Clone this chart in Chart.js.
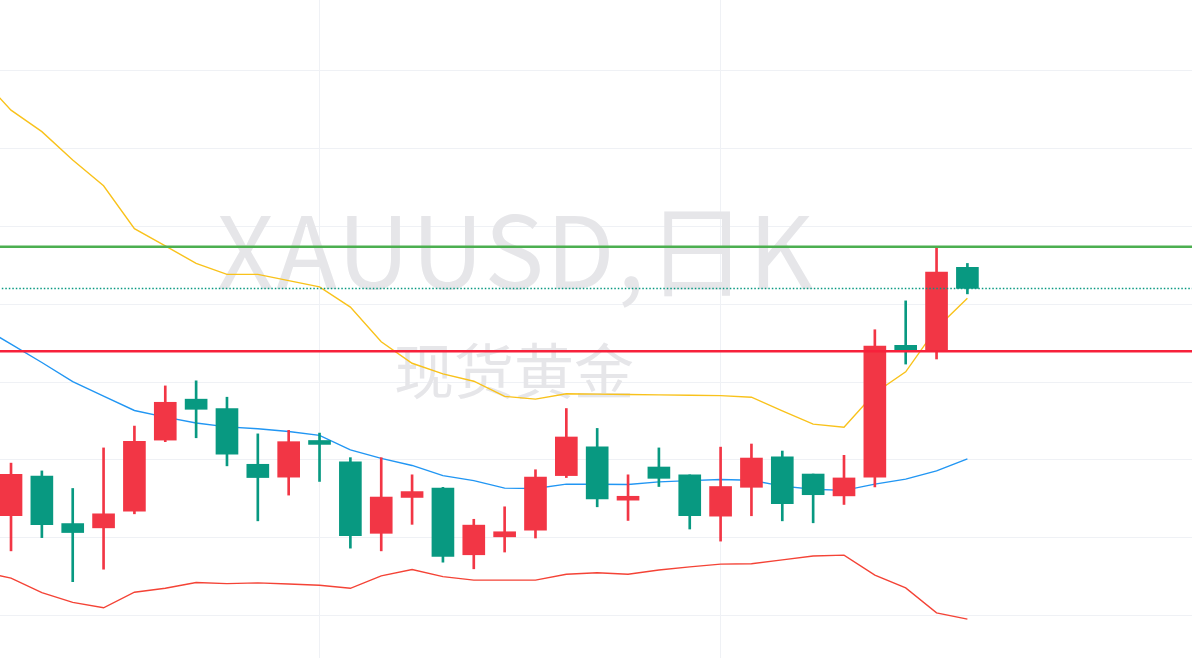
<!DOCTYPE html>
<html>
<head>
<meta charset="utf-8">
<title>XAUUSD 日K</title>
<script src="https://cdn.jsdelivr.net/npm/chart.js@4.4.0/dist/chart.umd.min.js"></script>
<style>
  html, body { margin: 0; padding: 0; background: #fff; overflow: hidden; }
  #wrap { width: 1192px; height: 658px; }
</style>
</head>
<body>
<div id="wrap"><canvas id="kline"></canvas></div>
<script>
// day -1 is the session just left of the view (only its bands show)
const days = [-1, 0, 1, 2, 3, 4, 5, 6, 7, 8, 9, 10, 11, 12, 13, 14, 15, 16,
  17, 18, 19, 20, 21, 22, 23, 24, 25, 26, 27, 28, 29, 30, 31];

const open = [null, 1925.7, 1935.9, 1923.7, 1922.6, 1926.9, 1945.1, 1955.6, 1953.2,
  1938.9, 1935.6, 1945.0, 1939.5, 1921.2, 1930.4, 1932.8, 1915.7, 1920.3, 1922.0,
  1936.0, 1943.4, 1929.7, 1938.2, 1936.2, 1925.6, 1933.0, 1940.8, 1936.4, 1930.8,
  1935.6, 1969.4, 1968.0, 1989.4];
const high = [null, 1939.2, 1937.2, 1932.7, 1943.1, 1948.7, 1959.0, 1960.3, 1956.1,
  1946.7, 1947.6, 1946.9, 1940.6, 1940.6, 1936.2, 1933.0, 1924.8, 1928.0, 1937.5,
  1953.2, 1948.1, 1936.2, 1943.1, 1936.2, 1943.3, 1944.1, 1942.3, 1936.4, 1941.2,
  1973.4, 1980.8, 1994.5, 1990.4];
const low = [null, 1916.7, 1920.1, 1908.8, 1912.0, 1926.2, 1944.7, 1945.7, 1938.5,
  1924.4, 1931.0, 1934.5, 1917.4, 1916.7, 1923.5, 1913.8, 1912.1, 1916.4, 1920.0,
  1935.5, 1928.0, 1924.5, 1933.2, 1922.3, 1919.2, 1925.7, 1924.4, 1923.9, 1928.6,
  1933.1, 1964.6, 1965.9, 1982.6];
const close = [null, 1936.3, 1923.4, 1921.4, 1926.2, 1944.8, 1954.8, 1953.0, 1941.5,
  1935.5, 1944.7, 1944.0, 1920.6, 1930.5, 1931.9, 1915.3, 1923.3, 1921.6, 1935.6,
  1945.9, 1930.0, 1930.7, 1935.3, 1925.7, 1933.2, 1940.5, 1928.8, 1931.1, 1935.4,
  1969.2, 1968.0, 1988.2, 1984.0];

// Bollinger bands
const bollUpper = [2038.2, 2029.7, 2024.2, 2016.9, 2010.3, 1999.3, 1994.9, 1990.4,
  1987.6, 1987.6, 1986.0, 1984.4, 1979.2, 1970.3, 1964.8, 1962.1, 1960.2, 1956.3,
  1955.6, 1957.0, 1956.9, 1956.8, 1956.7, 1956.6, 1956.5, 1956.1, 1952.6, 1949.2,
  1948.4, 1957.2, 1962.6, 1973.8, 1981.5];
const bollMid = [1974.4, 1969.7, 1965.0, 1960.1, 1956.4, 1952.7, 1951.0, 1949.5,
  1948.5, 1948.0, 1947.3, 1946.3, 1942.6, 1940.4, 1938.6, 1936.0, 1934.7, 1932.8,
  1932.7, 1933.8, 1933.8, 1933.7, 1934.4, 1934.7, 1935.0, 1934.8, 1933.3, 1932.5,
  1932.2, 1933.8, 1935.1, 1937.2, 1940.3];
const bollLower = [1911.5, 1909.7, 1906.0, 1903.5, 1902.1, 1906.1, 1907.1, 1908.6,
  1908.3, 1908.5, 1908.2, 1907.9, 1907.1, 1910.3, 1911.9, 1910.1, 1909.2, 1909.2,
  1909.2, 1910.7, 1911.1, 1910.7, 1911.8, 1912.6, 1913.3, 1913.4, 1914.4, 1915.4,
  1915.6, 1910.5, 1907.2, 1900.8, 1899.2];

const resistance = 1994.7;
const support = 1967.9;
const lastPrice = close[close.length - 1];

const priceTicks = [1900, 1920, 1940, 1960, 1980, 2000, 2020, 2040];
const dayTicks = [10, 23];

const title = 'XAUUSD,日K';
const subtitle = '现货黄金';

const UP = '#f23645';
const DOWN = '#089981';

const bars = days.map((d, i) => ({ x: d, o: open[i], h: high[i], l: low[i], c: close[i] }))
  .filter(b => b.o != null);
const bodies = bars.map(b => ({ x: b.x, y: [b.o, b.c], up: b.c >= b.o }));
const wicks = bars.map(b => ({ x: b.x, y: [b.l, b.h], up: b.c >= b.o }));
const pts = arr => days.map((d, i) => ({ x: d, y: arr[i] }));
const level = v => [{ x: -2, y: v }, { x: 40, y: v }];
const candleColor = ctx => (ctx.raw && ctx.raw.up ? UP : DOWN);

const watermark = {
  id: 'watermark',
  beforeDatasetsDraw(chart) {
    const ctx = chart.ctx;
    ctx.save();
    ctx.fillStyle = '#e6e6e9';
    ctx.textAlign = 'center';
    ctx.textBaseline = 'alphabetic';
    ctx.font = '100px "Noto Sans CJK SC", sans-serif';
    ctx.letterSpacing = '2px';
    ctx.fillText(title, 516, 289);
    ctx.letterSpacing = '0px';
    ctx.textBaseline = 'middle';
    ctx.font = '60px "Noto Sans CJK SC", sans-serif';
    ctx.fillText(subtitle, 514, 371);
    ctx.restore();
  }
};

const lineDs = (data, color, width, order, dash) => ({
  type: 'line',
  data,
  borderColor: color,
  borderWidth: width,
  borderDash: dash || [],
  pointRadius: 0,
  tension: 0,
  fill: false,
  order
});

new Chart(document.getElementById('kline'), {
  type: 'bar',
  data: {
    datasets: [
      lineDs(pts(bollUpper), '#f9c21b', 1.4, 5),
      lineDs(pts(bollMid), '#2196f3', 1.4, 5),
      lineDs(pts(bollLower), '#f44336', 1.4, 5),
      {
        data: wicks,
        backgroundColor: candleColor,
        barThickness: 2,
        grouped: false,
        order: 3
      },
      {
        data: bodies,
        backgroundColor: candleColor,
        barThickness: 22,
        grouped: false,
        order: 2
      },
      lineDs(level(lastPrice), DOWN, 1.5, 1, [1.5, 2]),
      lineDs(level(support), '#f7213b', 2.5, 0),
      lineDs(level(resistance), '#4caf50', 2.5, 0)
    ]
  },
  options: {
    responsive: true,
    maintainAspectRatio: false,
    animation: false,
    layout: { padding: 0 },
    plugins: { legend: { display: false }, tooltip: { enabled: false } },
    scales: {
      x: {
        type: 'linear',
        min: -0.357,
        max: 38.28,
        offset: false,
        afterBuildTicks: s => { s.ticks = dayTicks.map(v => ({ value: v })); },
        ticks: { display: false },
        grid: { color: '#eff1f5', offset: false, drawTicks: false },
        border: { display: false }
      },
      y: {
        min: 1889.23,
        max: 2057.95,
        afterBuildTicks: s => { s.ticks = priceTicks.map(v => ({ value: v })); },
        ticks: { display: false },
        grid: { color: '#eff1f5', drawTicks: false },
        border: { display: false }
      }
    }
  },
  plugins: [watermark]
});
</script>
</body>
</html>
